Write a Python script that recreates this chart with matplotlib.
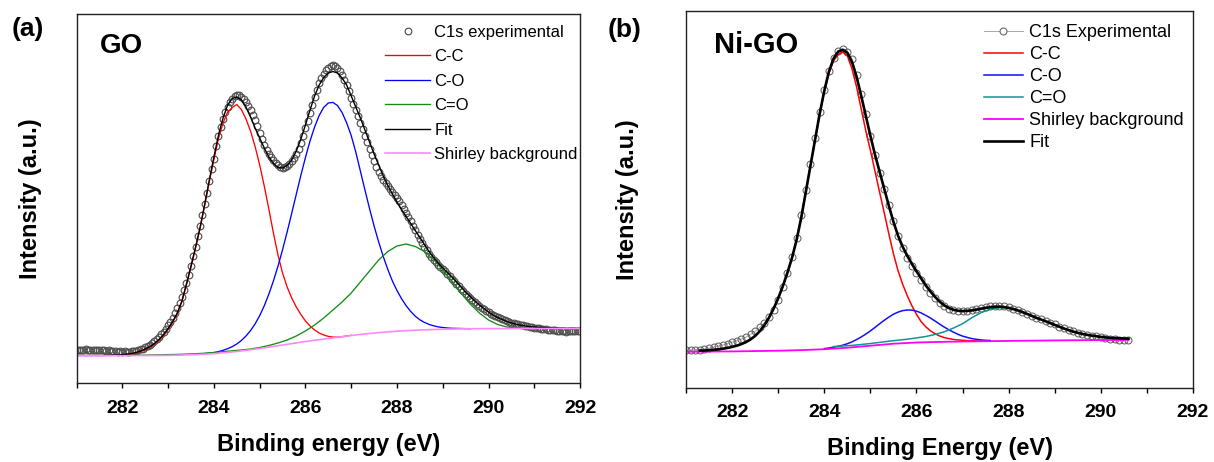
import numpy as np
import matplotlib
matplotlib.use('Agg')
import matplotlib.pyplot as plt
from matplotlib.ticker import MultipleLocator

plt.rcParams['font.family'] = ['Liberation Sans', 'DejaVu Sans']

## (a) GO, C1s
# experimental points, 0.05 eV steps from 281.0 eV
go_exp_start, go_exp_step = 281.0, 0.05
go_exp = [
    33.0, 33.4, 32.8, 33.1, 33.5, 33.0, 32.6, 33.2, 33.4, 32.9,
    32.5, 33.0, 32.7, 32.2, 32.5, 31.8, 31.5, 31.9, 31.3, 31.6,
    31.2, 31.5, 31.0, 31.4, 31.8, 31.6, 32.3, 32.8, 33.5, 34.2,
    35.5, 36.8, 38.0, 39.6, 41.5, 43.5, 45.8, 48.5, 51.2, 54.3,
    57.5, 61.0, 65.0, 69.5, 74.5, 80.0, 86.0, 92.5, 99.5, 108.0,
    117.0, 127.0, 136.0, 147.0, 157.0, 168.0, 179.0, 190.0, 202.0, 214.0,
    224.0, 236.5, 247.0, 256.0, 264.0, 270.5, 276.0, 280.5, 284.0, 286.5,
    288.0, 287.5, 285.5, 283.5, 280.5, 277.0, 272.5, 267.5, 262.5, 257.0,
    250.0, 244.0, 238.0, 233.0, 229.0, 225.5, 222.5, 220.0, 217.5, 216.0,
    215.0, 215.5, 216.5, 219.0, 221.5, 225.0, 229.0, 234.0, 240.0, 246.5,
    254.5, 262.0, 270.0, 278.0, 286.0, 293.0, 299.5, 304.5, 309.0, 312.5,
    315.0, 316.5, 317.5, 316.5, 314.5, 311.5, 307.5, 303.0, 297.5, 291.5,
    285.0, 279.0, 273.0, 266.5, 260.0, 253.5, 247.0, 240.5, 234.0, 227.5,
    221.5, 215.5, 210.5, 206.5, 203.0, 200.0, 197.0, 194.0, 191.0, 188.0,
    185.0, 181.5, 178.0, 174.0, 170.0, 166.0, 161.5, 157.0, 152.5, 148.0,
    144.0, 140.0, 136.0, 132.5, 129.0, 126.0, 123.0, 120.5, 118.0, 115.5,
    113.5, 111.5, 109.0, 106.5, 104.0, 101.5, 99.0, 96.5, 94.0, 91.5,
    89.0, 86.5, 84.5, 82.5, 80.5, 78.5, 76.5, 75.0, 73.5, 72.0,
    70.5, 69.0, 67.5, 66.5, 65.5, 64.5, 63.5, 62.5, 61.8, 61.0,
    60.3, 59.7, 59.2, 58.6, 58.0, 57.5, 57.0, 56.5, 56.0, 55.7,
    55.4, 55.0, 54.7, 54.3, 54.0, 53.7, 53.4, 53.1, 52.8, 52.5,
    52.2, 52.0, 51.7, 51.5, 51.4, 51.5, 51.8, 52.0, 52.2, 52.3,
    52.3]

# fitted envelope, 0.1 eV steps from 281.0 eV
go_fit_start, go_fit_step = 281.0, 0.1
go_fit = [
    27.5, 27.5, 27.5, 27.5, 27.5, 27.5, 27.6, 27.6, 27.7, 28.0,
    28.3, 28.8, 29.5, 30.5, 32.0, 34.0, 36.2, 39.5, 43.5, 48.5,
    54.5, 61.5, 70.0, 82.0, 99.0, 117.0, 136.0, 156.0, 179.0, 203.0,
    226.0, 248.0, 265.0, 278.0, 284.5, 286.0, 283.0, 276.0, 266.0, 255.0,
    245.0, 235.0, 226.0, 219.5, 215.5, 215.0, 217.5, 223.0, 232.0, 244.0,
    258.0, 273.0, 287.0, 298.0, 305.5, 310.0, 311.5, 310.0, 305.0, 298.0,
    287.0, 276.0, 265.0, 253.0, 241.0, 229.0, 218.0, 207.0, 197.5, 189.0,
    181.0, 173.5, 166.5, 159.5, 152.5, 145.5, 138.5, 131.5, 125.5, 120.0,
    115.0, 110.5, 106.0, 101.0, 96.0, 91.0, 86.5, 82.0, 78.0, 74.5,
    71.0, 68.0, 65.5, 63.5, 61.5, 60.0, 58.8, 57.8, 57.0, 56.4,
    56.0, 55.7, 55.4, 55.2, 55.0, 54.9, 54.8, 54.7, 54.7, 54.6,
    54.6]

# C-C component, 0.1 eV steps from 282.0 eV
go_cc_start, go_cc_step = 282.0, 0.1
go_cc = [
    28.1, 28.5, 29.2, 30.1, 31.5, 33.5, 35.6, 38.9, 42.8, 47.8,
    53.7, 60.7, 69.2, 81.2, 98.2, 116.2, 135.2, 155.1, 178.0, 201.5,
    223.6, 244.5, 260.0, 271.0, 275.5, 278.5, 273.5, 264.0, 252.0, 236.5,
    218.0, 197.0, 174.0, 150.0, 128.0, 110.0, 96.0, 85.0, 76.0, 68.5,
    62.0, 57.0, 53.0, 50.0, 48.0, 46.6, 45.9, 45.8, 46.3, 47.0,
    47.7]

# C-O component, 0.1 eV steps from 283.8 eV
go_co_start, go_co_step = 283.8, 0.1
go_co = [
    29.4, 29.8,
    30.4, 31.4, 32.7, 34.3, 36.4, 39.0, 42.5, 46.9, 52.4, 59.1,
    67.3, 77.2, 88.8, 102.0, 116.8, 133.3, 151.0, 169.7, 188.8, 207.7,
    225.5, 242.0, 256.0, 267.5, 275.7, 280.0, 280.6, 277.5, 270.5, 260.2,
    247.4, 231.0, 212.0, 193.0, 174.5, 157.0, 141.0, 126.5, 113.5, 102.0,
    92.5, 84.3, 77.3, 71.5, 66.8, 63.2, 60.6, 58.6, 57.2, 56.1,
    55.5, 55.0, 54.7, 54.6, 54.5, 54.4, 54.3]

# C=O component, 0.2 eV steps from 282.2 eV
go_c_o_start, go_c_o_step = 282.2, 0.2
go_c_o = [
    27.6, 27.8, 28.0, 28.2, 28.4, 28.6, 28.9, 29.3, 29.8, 30.5,
    31.3, 32.2, 33.0, 34.0, 35.5, 37.5, 40.0, 43.0, 47.0, 52.0,
    58.0, 65.0, 73.0, 81.0, 90.0, 101.0, 112.0, 123.0, 131.5, 137.0,
    139.0, 136.5, 131.5, 123.5, 113.0, 102.0, 90.0, 79.0, 70.0, 63.0,
    58.5, 56.0, 55.0, 54.6, 54.5, 54.5, 54.5, 54.5, 54.5, 54.5]

# Shirley background
go_bg_x = [281.0, 282.0, 283.0, 283.5, 284.0, 284.5, 285.0, 285.5, 286.0, 286.5,
           287.0, 287.5, 288.0, 288.5, 289.0, 289.5, 290.0, 291.0, 292.0]
go_bg = [27.3, 27.3, 27.6, 28.2, 29.3, 31.5, 34.5, 38.0, 41.5, 44.5,
         47.5, 50.0, 51.8, 53.0, 53.8, 54.2, 54.4, 54.5, 54.5]

## (b) Ni-GO, C1s
ngo_exp_start, ngo_exp_step = 281.0, 0.1
ngo_exp = [
    37.7, 37.5, 37.8, 38.0, 38.6, 39.5, 40.6, 41.5, 42.8, 44.0,
    45.5, 47.0, 48.6, 50.6, 53.3, 56.5, 60.3, 65.0, 70.5, 78.0,
    88.0, 100.5, 115.0, 130.5, 150.0, 173.0, 198.0, 224.0, 250.0, 276.0,
    298.0, 317.0, 330.0, 337.0, 338.5, 336.0, 329.0, 313.0, 294.0, 274.0,
    252.0, 233.0, 215.0, 199.0, 183.0, 167.0, 152.0, 140.0, 130.0, 122.0,
    115.0, 108.0, 101.0, 95.0, 90.0, 85.0, 81.5, 79.0, 77.5, 77.0,
    76.5, 77.0, 77.5, 78.5, 79.5, 80.5, 81.5, 82.0, 82.0, 81.5,
    80.5, 79.0, 77.5, 76.0, 74.0, 72.0, 70.0, 68.5, 67.0, 65.0,
    63.5, 61.0, 59.5, 58.0, 56.5, 55.0, 54.0, 53.0, 52.0, 51.5,
    50.5, 50.0, 49.0, 48.5, 48.2, 48.0, 48.0]

ngo_fit_start, ngo_fit_step = 281.3, 0.1
ngo_fit = [
    37.0, 37.2, 37.5, 37.9, 38.4, 39.0, 39.8,
    40.8, 42.0, 43.6, 45.6, 48.3, 51.8, 56.5, 62.5, 70.0, 79.0,
    89.5, 101.5, 115.0, 130.0, 148.0, 170.0, 196.0, 222.0, 248.0, 274.0,
    297.0, 316.0, 329.0, 336.0, 338.0, 335.0, 326.0, 311.0, 292.0, 272.0,
    252.0, 233.0, 216.0, 199.0, 182.0, 166.0, 152.0, 141.0, 132.0, 124.0,
    116.5, 109.5, 102.5, 96.5, 91.0, 86.3, 82.5, 79.8, 78.0, 77.0,
    76.6, 76.8, 77.3, 78.1, 79.0, 79.8, 80.5, 80.9, 81.0, 80.6,
    79.8, 78.7, 77.3, 75.6, 73.8, 71.9, 69.9, 68.2, 66.5, 64.7,
    62.8, 61.0, 59.2, 57.6, 56.1, 54.9, 53.8, 52.9, 52.1, 51.5,
    50.8, 50.3, 49.9, 49.6, 49.4, 49.2, 49.0]

ngo_cc_start, ngo_cc_step = 281.3, 0.1
ngo_cc = [
    37.0, 37.2, 37.5, 37.9, 38.4, 39.0, 39.8,
    40.8, 42.0, 43.6, 45.6, 48.3, 51.8, 56.5, 62.5, 70.0, 79.0,
    89.5, 101.5, 115.0, 130.0, 148.0, 170.0, 196.0, 222.0, 247.5, 273.0,
    296.0, 314.5, 327.0, 333.0, 336.0, 332.0, 319.0, 301.0, 279.0, 257.0,
    237.5, 216.5, 195.5, 175.0, 154.0, 134.0, 117.0, 103.5, 92.0, 82.0,
    73.4, 66.1, 61.0, 57.0, 54.0, 51.8, 50.2, 49.1, 48.3, 47.8,
    47.4, 47.1, 46.9, 46.8, 46.7]

ngo_co_start, ngo_co_step = 284.0, 0.1
ngo_co = [
    39.1, 39.7, 40.5, 41.4, 42.5, 44.0, 45.8, 48.1, 50.7, 53.6,
    56.8, 60.3, 63.9, 67.4, 70.6, 73.5, 75.6, 77.1, 77.7, 77.6,
    76.6, 74.8, 72.4, 69.8, 66.8, 63.7, 60.7, 58.0, 55.6, 53.4,
    51.6, 50.3, 49.1, 48.4, 47.8, 47.4, 47.2]

ngo_c_o_start, ngo_c_o_step = 284.2, 0.2
ngo_c_o = [
    41.2, 41.7, 42.3, 43.2, 44.2, 45.3, 46.5, 47.5, 48.5, 49.8,
    51.2, 53.2, 55.9, 59.6, 64.0, 70.0, 75.0, 78.5, 80.2, 79.6,
    77.3, 73.8, 69.9, 66.5, 62.8, 59.2, 56.1, 53.8, 52.1, 50.8,
    49.9, 49.4, 49.0]

ngo_bg_x = [281.0, 282.0, 283.0, 283.5, 284.0, 284.5, 285.0, 285.5, 286.0, 286.5,
            287.0, 288.0, 289.0, 290.0, 290.6]
ngo_bg = [36.0, 36.3, 37.0, 37.6, 38.5, 40.0, 42.0, 44.0, 45.2, 45.8,
          46.2, 46.8, 47.3, 47.7, 47.8]

energy_ticks = [282, 284, 286, 288, 290, 292]


def grid(start, step, values):
    # energiaxel för en jämnt samplad serie
    return start + step * np.arange(len(values))


def style_axes(ax, ytop, ypad, tickpad):
    ax.set_xlim(281, 292)
    ax.set_ylim(0, ytop)
    ax.set_xticks(energy_ticks)
    ax.xaxis.set_minor_locator(MultipleLocator(1))
    ax.set_yticks([])
    ax.tick_params(axis='x', which='both', direction='out', length=3.8,
                   width=1.0, pad=tickpad, labelsize=14)
    for lab in ax.get_xticklabels():
        lab.set_fontweight('bold')
    for sp in ax.spines.values():
        sp.set_linewidth(1.0)
        sp.set_color('#222222')
    ax.set_ylabel('Intensity (a.u.)', fontsize=17, fontweight='bold',
                  labelpad=ypad)


fig = plt.figure(figsize=(12.14, 4.62), dpi=100)
ax1 = fig.add_axes([0.0631, 0.171, 0.4147, 0.7987])
ax2 = fig.add_axes([0.5651, 0.1608, 0.4176, 0.816])

# panel (a)
ax1.plot(grid(go_exp_start, go_exp_step, go_exp), go_exp, 'o', ms=4.8,
         mfc='none', mec='#505050', mew=0.85, label='C1s experimental')
ax1.plot(grid(go_cc_start, go_cc_step, go_cc), go_cc, color='#ff0000',
         lw=0.95, label='C-C')
ax1.plot(grid(go_co_start, go_co_step, go_co), go_co, color='#0000ff',
         lw=0.95, label='C-O')
ax1.plot(grid(go_c_o_start, go_c_o_step, go_c_o), go_c_o, color='#148c14',
         lw=0.95, label='C=O')
ax1.plot(grid(go_fit_start, go_fit_step, go_fit), go_fit, color='black',
         lw=1.0, label='Fit')
ax1.plot(go_bg_x, go_bg, color='#ff88ff', lw=1.2, label='Shirley background')
style_axes(ax1, 369, 25, 8.8)
ax1.set_xlabel('Binding energy (eV)', fontsize=17, fontweight='bold',
               labelpad=11)
ax1.text(0.046, 0.894, 'GO', transform=ax1.transAxes, fontsize=20,
         fontweight='bold', va='baseline')
ax1.legend(loc='upper left', bbox_to_anchor=(0.6126, 0.971), frameon=False,
           fontsize=12, handlelength=2.7, handletextpad=0.25,
           labelspacing=0.57, borderpad=0, borderaxespad=0, numpoints=1)

# panel (b)
ax2.plot(grid(ngo_exp_start, ngo_exp_step, ngo_exp), ngo_exp, '-o', ms=5.0,
         color='#a8a8a8', lw=0.7, mfc='none', mec='#606060', mew=0.75,
         label='C1s Experimental')
ax2.plot(grid(ngo_cc_start, ngo_cc_step, ngo_cc), ngo_cc, color='#ff0000',
         lw=1.1, label='C-C')
ax2.plot(grid(ngo_co_start, ngo_co_step, ngo_co), ngo_co, color='#1010ff',
         lw=1.1, label='C-O')
ax2.plot(grid(ngo_c_o_start, ngo_c_o_step, ngo_c_o), ngo_c_o, color='#129494',
         lw=1.1, label='C=O')
ax2.plot(ngo_bg_x, ngo_bg, color='#ff00ff', lw=1.3, label='Shirley background')
ax2.plot(grid(ngo_fit_start, ngo_fit_step, ngo_fit), ngo_fit, color='black',
         lw=1.9, label='Fit')
style_axes(ax2, 377, 33.7, 8.1)
ax2.set_xlabel('Binding Energy (eV)', fontsize=17, fontweight='bold',
               labelpad=11)
ax2.text(0.055, 0.889, 'Ni-GO', transform=ax2.transAxes, fontsize=21,
         fontweight='bold', va='baseline')
leg = ax2.legend(loc='upper left', bbox_to_anchor=(0.5868, 0.9647),
                 frameon=False, fontsize=13, handlelength=2.2,
                 handletextpad=0.33, labelspacing=0.28, borderpad=0,
                 borderaxespad=0, numpoints=1)
leg.legend_handles[0].set_markerfacecolor('white')

fig.text(0.0095, 0.922, '(a)', fontsize=19, fontweight='bold', va='baseline')
fig.text(0.5007, 0.919, '(b)', fontsize=19, fontweight='bold', va='baseline')

fig.savefig('out.png', dpi=100)
